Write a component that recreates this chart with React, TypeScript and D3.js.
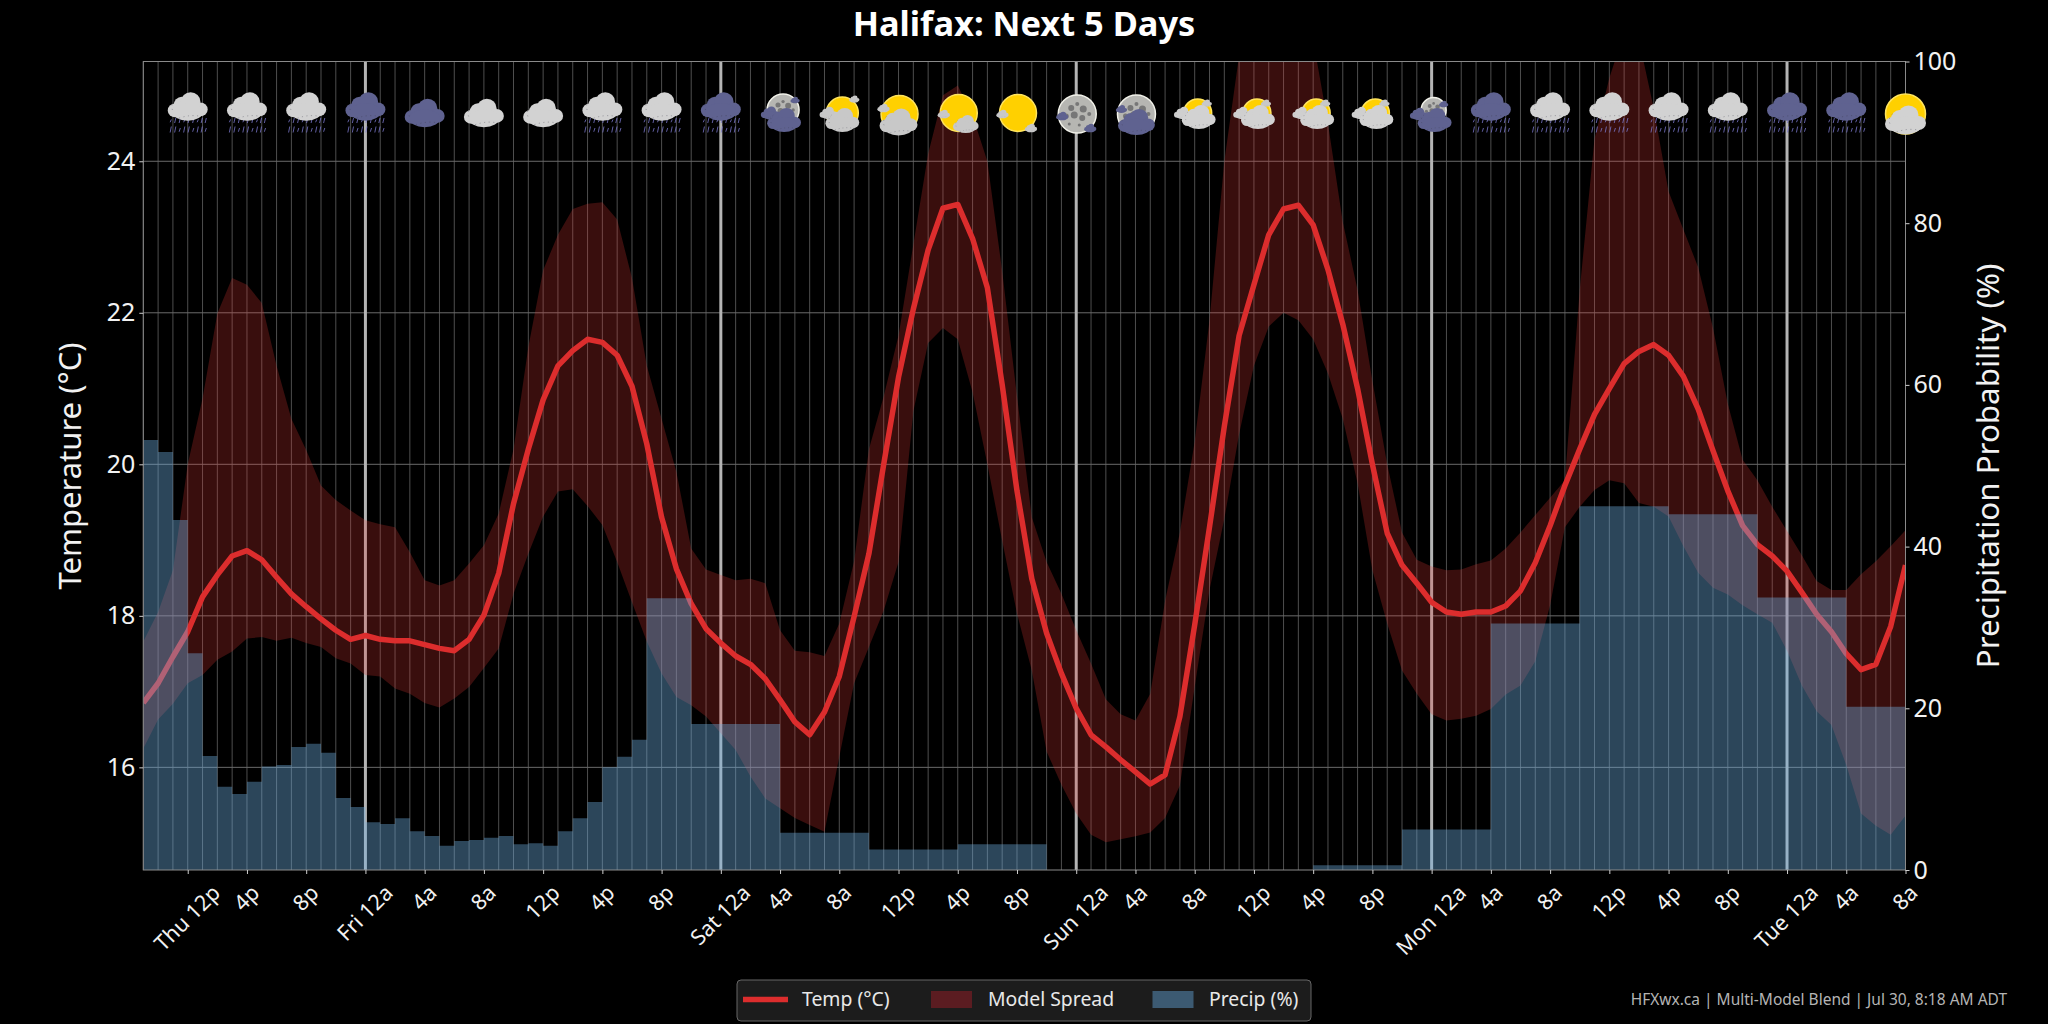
import { useEffect, useRef } from "react";
import * as d3 from "d3";

// Hourly series, Thu 9a (index 0) through Tue 8a (index 119)
const tempC = [
  16.85, 17.11, 17.46, 17.79, 18.25, 18.54, 18.79, 18.86, 18.74, 18.51,
  18.29, 18.12, 17.96, 17.81, 17.69, 17.74, 17.69, 17.67, 17.67, 17.62,
  17.57, 17.54, 17.69, 18.01, 18.56, 19.48, 20.2, 20.85, 21.3, 21.5,
  21.65, 21.61, 21.44, 21.03, 20.27, 19.3, 18.62, 18.16, 17.83, 17.64,
  17.47, 17.36, 17.17, 16.89, 16.6, 16.43, 16.73, 17.2, 17.99, 18.82,
  20.0, 21.15, 22.05, 22.83, 23.38, 23.43, 22.98, 22.33, 21.05, 19.65,
  18.49, 17.77, 17.24, 16.78, 16.43, 16.27, 16.1, 15.94, 15.78, 15.9,
  16.67, 17.88, 19.17, 20.5, 21.7, 22.37, 23.03, 23.37, 23.42, 23.16,
  22.57, 21.85, 21.0, 20.0, 19.09, 18.67, 18.43, 18.18, 18.05, 18.02,
  18.05, 18.05, 18.13, 18.33, 18.7, 19.19, 19.72, 20.2, 20.66, 21.0,
  21.33, 21.49, 21.58, 21.44, 21.16, 20.73, 20.18, 19.65, 19.19, 18.94,
  18.79, 18.59, 18.31, 18.02, 17.79, 17.5, 17.29, 17.36, 17.86, 18.67,
];

const spreadHigh = [
  17.66, 18.05, 18.6, 20.0, 20.87, 21.99, 22.46, 22.37, 22.13, 21.3,
  20.6, 20.19, 19.72, 19.53, 19.39, 19.26, 19.21, 19.17, 18.84, 18.47,
  18.4, 18.47, 18.69, 18.93, 19.35, 20.2, 21.55, 22.56, 23.03, 23.37,
  23.44, 23.46, 23.23, 22.46, 21.3, 20.6, 19.9, 18.89, 18.61, 18.54,
  18.47, 18.49, 18.43, 17.81, 17.54, 17.52, 17.47, 17.9, 18.72, 20.2,
  20.9, 21.7, 22.9, 24.1, 24.87, 25.0, 24.6, 24.0, 22.55, 20.9,
  19.3, 18.71, 18.29, 17.81, 17.37, 16.9, 16.7, 16.62, 16.97, 18.2,
  19.1, 20.3, 21.9, 24.0, 25.4, 26.0, 26.4, 26.6, 26.4, 25.6,
  24.5, 23.2, 22.3, 21.1, 20.0, 19.1, 18.74, 18.65, 18.6, 18.61,
  18.68, 18.73, 18.89, 19.1, 19.33, 19.56, 19.79, 22.3, 24.3, 25.1,
  25.7, 25.6, 24.7, 23.6, 23.1, 22.6, 21.8, 20.8, 20.06, 19.79,
  19.44, 19.12, 18.8, 18.46, 18.34, 18.34, 18.55, 18.72, 18.92, 19.13,
];

const spreadLow = [
  16.25, 16.63, 16.84, 17.11, 17.22, 17.42, 17.53, 17.7, 17.72, 17.67,
  17.71, 17.64, 17.59, 17.44, 17.37, 17.22, 17.2, 17.04, 16.97, 16.85,
  16.79, 16.91, 17.06, 17.31, 17.57, 18.29, 18.82, 19.31, 19.64, 19.67,
  19.45, 19.2, 18.71, 18.18, 17.66, 17.24, 16.93, 16.82, 16.67, 16.45,
  16.23, 15.88, 15.59, 15.46, 15.33, 15.24, 15.15, 16.14, 17.11, 17.59,
  18.07, 18.71, 20.7, 21.6, 21.8, 21.65, 20.95, 20.0, 18.99, 18.03,
  17.28, 16.21, 15.77, 15.39, 15.11, 15.01, 15.05, 15.09, 15.14, 15.33,
  15.76, 17.06, 18.34, 19.28, 20.4, 21.3, 21.82, 22.0, 21.9, 21.65,
  21.2, 20.6, 19.75, 18.6, 17.9, 17.28, 16.97, 16.7, 16.62, 16.64,
  16.68, 16.77, 16.96, 17.08, 17.4, 18.14, 19.17, 19.44, 19.66, 19.79,
  19.75, 19.49, 19.44, 19.31, 18.92, 18.57, 18.37, 18.28, 18.14, 18.02,
  17.91, 17.54, 17.08, 16.74, 16.56, 16.03, 15.39, 15.23, 15.11, 15.36,
];

const precipPct = [
  53.2, 51.7, 43.3, 26.8, 14.1, 10.3, 9.4, 10.9, 12.8, 13.0,
  15.2, 15.6, 14.5, 8.9, 7.8, 5.9, 5.7, 6.4, 4.8, 4.2,
  3.0, 3.6, 3.7, 4.0, 4.2, 3.2, 3.3, 3.0, 4.8, 6.4,
  8.4, 12.7, 14.0, 16.1, 33.6, 33.6, 33.6, 18.05, 18.05, 18.05,
  18.05, 18.05, 18.05, 4.6, 4.6, 4.6, 4.6, 4.6, 4.6, 2.55,
  2.55, 2.55, 2.55, 2.55, 2.55, 3.2, 3.2, 3.2, 3.2, 3.2,
  3.2, 0, 0, 0, 0, 0, 0, 0, 0, 0,
  0, 0, 0, 0, 0, 0, 0, 0, 0, 0.58,
  0.58, 0.58, 0.58, 0.58, 0.58, 5, 5, 5, 5, 5,
  5, 30.5, 30.5, 30.5, 30.5, 30.5, 30.5, 45, 45, 45,
  45, 45, 45, 44, 44, 44, 44, 44, 44, 33.7,
  33.7, 33.7, 33.7, 33.7, 33.7, 20.2, 20.2, 20.2, 20.2, 20.2,
];

const xTickHours = [
  3, 7, 11, 15, 19, 23, 27, 31, 35, 39, 43, 47, 51, 55, 59, 63, 67, 71, 75, 79,
  83, 87, 91, 95, 99, 103, 107, 111, 115, 119,
];
const xTickLabels = [
  "Thu 12p", "4p", "8p", "Fri 12a", "4a", "8a", "12p", "4p", "8p", "Sat 12a",
  "4a", "8a", "12p", "4p", "8p", "Sun 12a", "4a", "8a", "12p", "4p",
  "8p", "Mon 12a", "4a", "8a", "12p", "4p", "8p", "Tue 12a", "4a", "8a",
];
const dayStartHours = [15, 39, 63, 87, 111];
const tempTicks = [16, 18, 20, 22, 24];
const precipTicks = [0, 20, 40, 60, 80, 100];

// one sky icon per x tick
const skyIcons = [
  "rain", "rain", "rain", "rainDark", "cloudDark", "cloud", "cloud", "rain", "rain", "rainDark",
  "moonDarkHigh", "sunSmall", "sunCloud", "sunLess", "sunClear", "moonClear", "moonDark", "partly", "partly", "partly",
  "partly", "moonDarkLow", "rainDark", "rain", "rain", "rain", "rain", "rainDark", "rainDark", "sunEdge",
];

const LIGHT = "#d2d2d2";
const DARK = "#5f6290";
const FONT = "'Noto Sans', sans-serif";

type Part =
  | { t: "sun" | "moon"; dx: number; dy: number; r: number }
  | { t: "cloud"; dx: number; dy: number; w: number; fill: string };

const glyphs: Record<string, Part[]> = {
  rain: [{ t: "cloud", dx: 0, dy: -6.5, w: 39, fill: LIGHT }],
  rainDark: [{ t: "cloud", dx: 0, dy: -6.5, w: 39, fill: DARK }],
  cloud: [{ t: "cloud", dx: 0, dy: 0, w: 39, fill: LIGHT }],
  cloudDark: [{ t: "cloud", dx: 0, dy: 0, w: 39, fill: DARK }],
  moonDarkHigh: [
    { t: "moon", dx: 3, dy: -3, r: 16 },
    { t: "cloud", dx: 15, dy: -13, w: 9, fill: DARK },
    { t: "cloud", dx: -10, dy: 0, w: 18, fill: DARK },
    { t: "cloud", dx: 4, dy: 7, w: 33, fill: DARK },
  ],
  sunSmall: [
    { t: "sun", dx: 3, dy: 0, r: 16 },
    { t: "cloud", dx: 15, dy: -14, w: 10, fill: "#c8c8c8" },
    { t: "cloud", dx: -11, dy: 0, w: 17, fill: "#c8c8c8" },
    { t: "cloud", dx: 3, dy: 7, w: 33, fill: "#c8c8c8" },
  ],
  sunCloud: [
    { t: "sun", dx: 1, dy: 1, r: 18.5 },
    { t: "cloud", dx: -15, dy: -5, w: 12, fill: "#c8c8c8" },
    { t: "cloud", dx: 0, dy: 9, w: 37, fill: "#c8c8c8" },
  ],
  sunLess: [
    { t: "sun", dx: 1, dy: 0, r: 18.5 },
    { t: "cloud", dx: -14, dy: 1, w: 12, fill: "#c8c8c8" },
    { t: "cloud", dx: 8, dy: 11, w: 25, fill: "#c8c8c8" },
  ],
  sunClear: [
    { t: "sun", dx: 1, dy: 0, r: 18.5 },
    { t: "cloud", dx: -14.5, dy: 1, w: 12, fill: "#c8c8c8" },
    { t: "cloud", dx: 14, dy: 15, w: 12, fill: "#c8c8c8" },
  ],
  moonClear: [
    { t: "moon", dx: 1, dy: 1, r: 19 },
    { t: "cloud", dx: -14, dy: 3, w: 12, fill: DARK },
    { t: "cloud", dx: 14, dy: 15, w: 12, fill: DARK },
  ],
  moonDark: [
    { t: "moon", dx: 1, dy: 1, r: 19 },
    { t: "cloud", dx: -14, dy: -4, w: 11, fill: DARK },
    { t: "cloud", dx: 1, dy: 9, w: 36, fill: DARK },
  ],
  partly: [
    { t: "sun", dx: 3, dy: 0, r: 14 },
    { t: "cloud", dx: 12, dy: -10, w: 10, fill: "#c8c8c8" },
    { t: "cloud", dx: -12, dy: 0, w: 17, fill: "#cfcfcf" },
    { t: "cloud", dx: 4, dy: 4, w: 33, fill: LIGHT },
  ],
  moonDarkLow: [
    { t: "moon", dx: 2, dy: -3, r: 12.5 },
    { t: "cloud", dx: 12, dy: -9, w: 9, fill: DARK },
    { t: "cloud", dx: -13, dy: 1, w: 17, fill: DARK },
    { t: "cloud", dx: 3, dy: 7, w: 33, fill: DARK },
  ],
  sunEdge: [
    { t: "sun", dx: 0, dy: 1, r: 20 },
    { t: "cloud", dx: 0, dy: 7, w: 40, fill: LIGHT },
  ],
};

const cloudLobes = [
  [-13, 4, 7.5, 7],
  [-6, -1, 8.5, 9],
  [3, -5, 10, 9.5],
  [13, 3, 7.5, 7],
  [0, 5.5, 16, 9],
];
const craters = [
  [-6, -6, 3], [0, -10, 2], [6, -5, 3.5], [-11, 2, 2.5], [-3, 1, 3.5],
  [5, 4, 3], [12, 0, 2], [-8, 10, 1.5], [2, 11, 1.5],
];
const rainCols = [-17, -12.5, -8, -3.5, 1, 5.5, 10, 14, 18];

type G = d3.Selection<SVGGElement, unknown, null, undefined>;

function drawCloud(g: G, p: { dx: number; dy: number; w: number; fill: string }) {
  const c = g.append("g").attr("transform", `translate(${p.dx},${p.dy}) scale(${p.w / 40})`);
  c.selectAll("ellipse")
    .data(cloudLobes)
    .join("ellipse")
    .attr("cx", (d) => d[0])
    .attr("cy", (d) => d[1])
    .attr("rx", (d) => d[2])
    .attr("ry", (d) => d[3])
    .attr("fill", p.fill);
  c.append("path")
    .attr("d", "M-13,-6 A8 8 0 0 0 -14,6 M-9,12 Q2,8 13,10")
    .attr("fill", "none")
    .attr("stroke", "#3a3a48")
    .attr("stroke-opacity", 0.6)
    .attr("stroke-width", 0.6)
    .attr("stroke-dasharray", "1.2,3.5");
}

function drawIcon(g: G, kind: string) {
  if (kind === "rain" || kind === "rainDark") {
    [[5, 5], [13.5, 6]].forEach(([top, len], row) => {
      rainCols.forEach((cx, i) => {
        const jitter = (i + row) % 3 === 0 ? 1.5 : 0;
        g.append("line")
          .attr("x1", cx + 0.6)
          .attr("x2", cx - 0.6)
          .attr("y1", top + jitter)
          .attr("y2", top + len - jitter / 2)
          .attr("stroke", "#7a77cc")
          .attr("stroke-width", 0.8);
      });
    });
  }
  glyphs[kind].forEach((p) => {
    if (p.t === "cloud") {
      drawCloud(g, p);
    } else if (p.t === "sun") {
      g.append("circle")
        .attr("cx", p.dx)
        .attr("cy", p.dy)
        .attr("r", p.r)
        .attr("fill", "#ffd000")
        .attr("stroke", "#ffe45e")
        .attr("stroke-width", 1.5);
    } else {
      g.append("circle")
        .attr("cx", p.dx)
        .attr("cy", p.dy)
        .attr("r", p.r)
        .attr("fill", "#b6b6b2")
        .attr("stroke", "#f2f2ea")
        .attr("stroke-width", 1.5);
      const k = p.r / 19;
      craters.forEach((c) => {
        g.append("circle")
          .attr("cx", p.dx + c[0] * k)
          .attr("cy", p.dy + c[1] * k)
          .attr("r", c[2] * k)
          .attr("fill", "#777");
      });
    }
  });
}

export default function App() {
  const svgRef = useRef<SVGSVGElement | null>(null);

  useEffect(() => {
    const svgEl = svgRef.current;
    if (!svgEl) return;
    document.body.style.margin = "0";
    document.body.style.background = "#000";

    const width = 2048;
    const height = 1024;
    const margin = { top: 61.5, right: 142.5, bottom: 154, left: 143.3 };
    const left = margin.left;
    const right = width - margin.right;
    const top = margin.top;
    const bottom = height - margin.bottom;

    const svg = d3.select(svgEl);
    svg.selectAll("*").remove();
    svg.attr("width", width).attr("height", height).style("font-family", FONT);

    const x = d3.scaleLinear().domain([0, 119]).range([left, right]);
    const yTemp = d3.scaleLinear().domain([14.645, 25.317]).range([bottom, top]);
    const yPrecip = d3.scaleLinear().domain([0, 100]).range([bottom, top]);
    const hours = d3.range(tempC.length);

    svg.append("rect").attr("width", width).attr("height", height).attr("fill", "#000");

    const defs = svg.append("defs");
    defs.append("clipPath")
      .attr("id", "plot-clip")
      .append("rect")
      .attr("x", left)
      .attr("y", top)
      .attr("width", right - left)
      .attr("height", bottom - top);

    const plot = svg.append("g");

    // hourly and horizontal grid
    plot.append("g")
      .selectAll("line")
      .data(hours)
      .join("line")
      .attr("x1", (h) => x(h))
      .attr("x2", (h) => x(h))
      .attr("y1", top)
      .attr("y2", bottom)
      .attr("stroke", "#4e4e4e")
      .attr("stroke-width", 1);
    plot.append("g")
      .selectAll("line")
      .data(tempTicks)
      .join("line")
      .attr("x1", left)
      .attr("x2", right)
      .attr("y1", (t) => yTemp(t))
      .attr("y2", (t) => yTemp(t))
      .attr("stroke", "#6a6a6a")
      .attr("stroke-width", 1);

    // day boundaries
    plot.append("g")
      .selectAll("line")
      .data(dayStartHours)
      .join("line")
      .attr("x1", (h) => x(h))
      .attr("x2", (h) => x(h))
      .attr("y1", top)
      .attr("y2", bottom)
      .attr("stroke", "#b4b4b4")
      .attr("stroke-width", 3);

    const clipped = plot.append("g").attr("clip-path", "url(#plot-clip)");

    const spreadArea = d3
      .area<number>()
      .x((h) => x(h))
      .y0((h) => yTemp(spreadLow[h]))
      .y1((h) => yTemp(spreadHigh[h]));
    clipped.append("path")
      .datum(hours)
      .attr("d", spreadArea)
      .attr("fill", "rgb(229,57,53)")
      .attr("fill-opacity", 0.25);

    const tempLine = d3
      .line<number>()
      .x((h) => x(h))
      .y((h) => yTemp(tempC[h]));
    clipped.append("path")
      .datum(hours)
      .attr("d", tempLine)
      .attr("fill", "none")
      .attr("stroke", "#dc2d2d")
      .attr("stroke-width", 5.5)
      .attr("stroke-linejoin", "round");

    const precipArea = d3
      .area<number>()
      .x((h) => x(h))
      .y0(bottom)
      .y1((h) => yPrecip(precipPct[h]))
      .curve(d3.curveStepAfter);
    clipped.append("path")
      .datum(hours)
      .attr("d", precipArea)
      .attr("fill", "#6eaee1")
      .attr("fill-opacity", 0.4);

    // frame
    plot.append("rect")
      .attr("x", left)
      .attr("y", top)
      .attr("width", right - left)
      .attr("height", bottom - top)
      .attr("fill", "none")
      .attr("stroke", "#8a8a8a")
      .attr("stroke-width", 1);

    // sky icons
    const iconY = 113;
    skyIcons.forEach((kind, i) => {
      const g = svg.append("g").attr("transform", `translate(${x(xTickHours[i])},${iconY})`) as unknown as G;
      drawIcon(g, kind);
    });

    // axes
    const styleAxis = (a: d3.Selection<SVGGElement, unknown, null, undefined>, size: number) => {
      a.select(".domain").remove();
      a.selectAll(".tick line").attr("stroke", "#cfcfcf");
      a.selectAll("text")
        .attr("fill", "#f2f2f2")
        .attr("font-size", size)
        .attr("font-family", FONT);
    };

    const leftAxis = svg.append("g")
      .attr("transform", `translate(${left},0)`)
      .call(d3.axisLeft(yTemp).tickValues(tempTicks).tickSize(4).tickPadding(4));
    styleAxis(leftAxis, 25);

    const rightAxis = svg.append("g")
      .attr("transform", `translate(${right},0)`)
      .call(d3.axisRight(yPrecip).tickValues(precipTicks).tickSize(4).tickPadding(4));
    styleAxis(rightAxis, 25);

    const bottomAxis = svg.append("g")
      .attr("transform", `translate(0,${bottom})`)
      .call(
        d3.axisBottom(x)
          .tickValues(xTickHours)
          .tickSize(4)
          .tickFormat((_, i) => xTickLabels[i])
      );
    styleAxis(bottomAxis, 21.5);
    // 45 degree labels, centred on the tick with their corner just below it
    bottomAxis.selectAll<SVGTextElement, number>("text").each(function () {
      const len = this.getComputedTextLength();
      const drop = 11.5 + ((len + 21) * Math.SQRT1_2) / 2;
      d3.select(this)
        .attr("y", 0)
        .attr("dy", "0.35em")
        .attr("text-anchor", "middle")
        .attr("transform", `translate(-1,${drop}) rotate(-45)`);
    });

    // titles
    svg.append("text")
      .attr("x", 1024)
      .attr("y", 36)
      .attr("text-anchor", "middle")
      .attr("font-size", 34.4)
      .attr("font-weight", 700)
      .attr("fill", "#fff")
      .text("Halifax: Next 5 Days");
    svg.append("text")
      .attr("transform", "translate(70,466) rotate(-90)")
      .attr("dy", "0.35em")
      .attr("text-anchor", "middle")
      .attr("font-size", 31)
      .attr("fill", "#f2f2f2")
      .text("Temperature (°C)");
    svg.append("text")
      .attr("transform", "translate(1988,466) rotate(-90)")
      .attr("dy", "0.35em")
      .attr("text-anchor", "middle")
      .attr("font-size", 31.3)
      .attr("fill", "#f2f2f2")
      .text("Precipitation Probability (%)");

    // legend
    const legend = svg.append("g");
    legend.append("rect")
      .attr("x", 737)
      .attr("y", 980)
      .attr("width", 574)
      .attr("height", 41)
      .attr("rx", 4)
      .attr("fill", "#1c1c1c")
      .attr("stroke", "#666")
      .attr("stroke-width", 1);
    legend.append("line")
      .attr("x1", 743)
      .attr("x2", 788)
      .attr("y1", 999.5)
      .attr("y2", 999.5)
      .attr("stroke", "#dc2d2d")
      .attr("stroke-width", 5.5);
    legend.append("rect")
      .attr("x", 931)
      .attr("y", 991)
      .attr("width", 41)
      .attr("height", 17)
      .attr("fill", "#5b1c21");
    legend.append("rect")
      .attr("x", 1152.5)
      .attr("y", 991)
      .attr("width", 41)
      .attr("height", 17)
      .attr("fill", "#3c5a72");
    [
      { label: "Temp (°C)", at: 802 },
      { label: "Model Spread", at: 988 },
      { label: "Precip (%)", at: 1209 },
    ].forEach((d) =>
      legend.append("text")
        .attr("x", d.at)
        .attr("y", 1000)
        .attr("dy", "0.32em")
        .attr("font-size", 19.4)
        .attr("fill", "#e8e8e8")
        .text(d.label)
    );

    svg.append("text")
      .attr("x", 2007)
      .attr("y", 1000)
      .attr("dy", "0.32em")
      .attr("text-anchor", "end")
      .attr("font-size", 15.5)
      .attr("fill", "#b4b4b4")
      .text("HFXwx.ca | Multi-Model Blend | Jul 30, 8:18 AM ADT");
  }, []);

  return <svg ref={svgRef} role="img" aria-label="Halifax 5 day forecast" style={{ display: "block" }} />;
}
